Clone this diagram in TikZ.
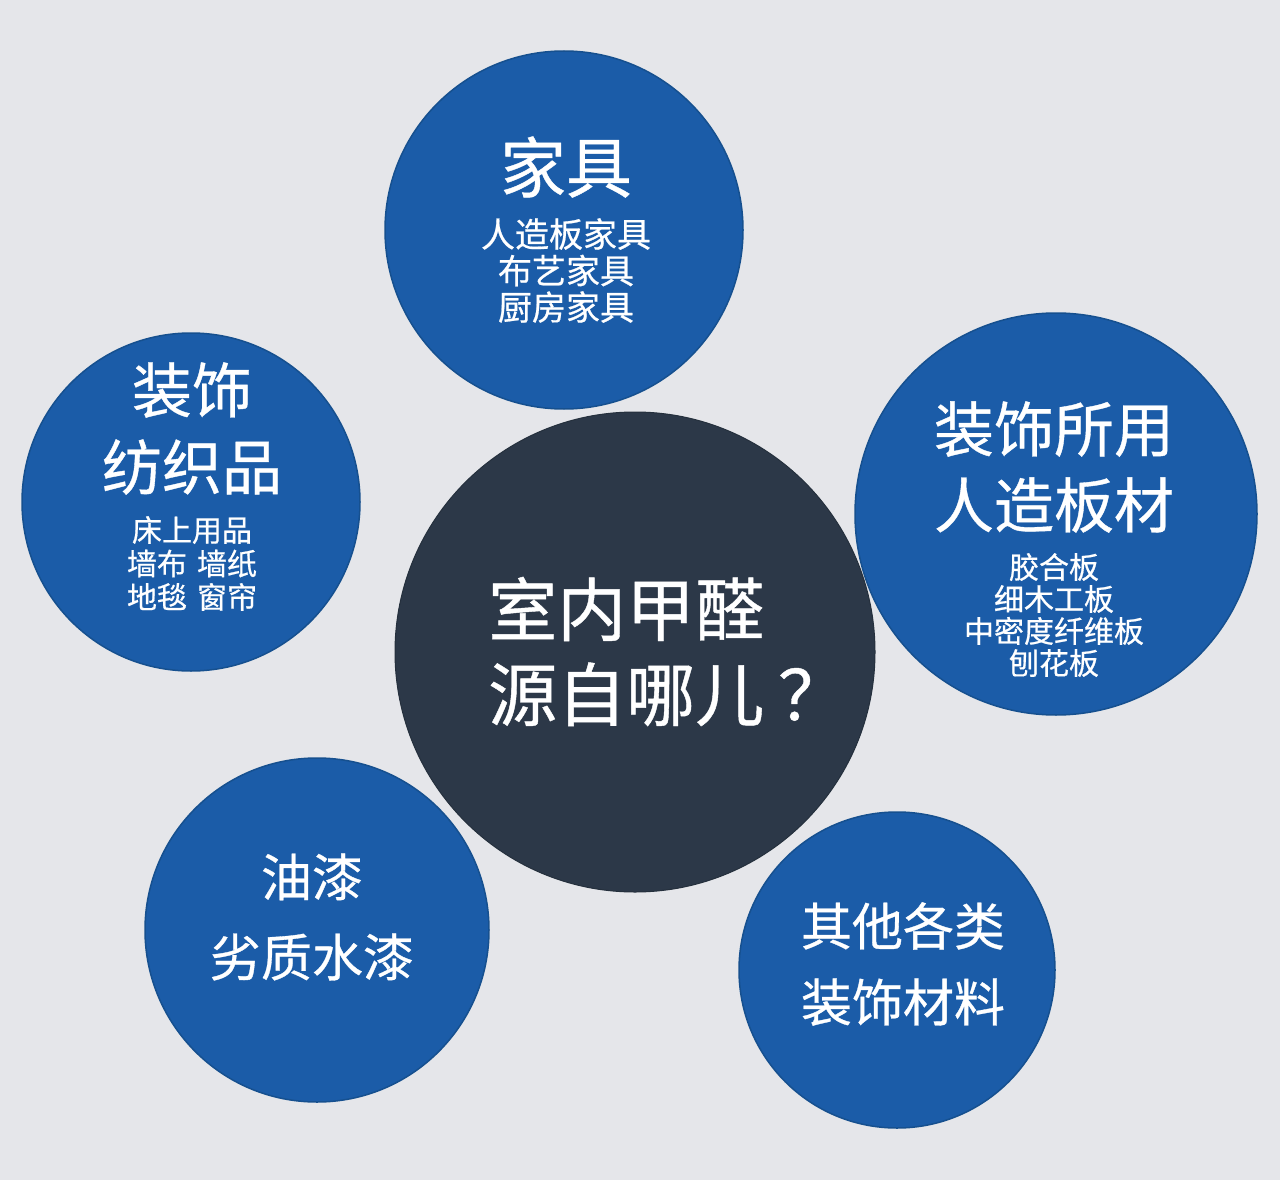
\documentclass[tikz,border=0pt]{standalone}
\usepackage{fontspec}
\setmainfont{Noto Sans CJK SC}
\newfontfamily\heavy{Noto Sans CJK SC}[FakeBold=0.6]
\definecolor{bg}{HTML}{E5E6EA}
\definecolor{blu}{HTML}{1B5CA8}
\definecolor{bluedge}{HTML}{16508F}
\definecolor{dark}{HTML}{2C3848}
\tikzset{
  bluecirc/.style={circle, fill=blu, draw=bluedge, line width=1.5pt, inner sep=0pt},
  darkcirc/.style={circle, fill=dark, draw=dark!85!black, line width=1pt, inner sep=0pt},
  txt/.style={text=white, inner sep=0pt, align=center},
}
\newcommand{\fs}[2]{\heavy\fontsize{#1}{#2}\selectfont}
\begin{document}
\begin{tikzpicture}[x=1pt,y=-1pt]
\fill[bg] (0,0) rectangle (1280,1180);
\useasboundingbox (0,0) rectangle (1280,1180);
% circles
\node[bluecirc, minimum size=358pt] (c1) at (564,230) {};
\node[bluecirc, minimum size=338pt] (c2) at (191,502) {};
\node[bluecirc, minimum size=402pt] (c3) at (1056,514) {};
\node[darkcirc, minimum size=480pt] (c0) at (635,652) {};
\node[bluecirc, minimum size=344pt] (c4) at (317,930) {};
\node[bluecirc, minimum size=316pt] (c5) at (897,970) {};
% texts
\node[txt, font=\fs{66}{70}] (t1a) at (566,167) {家具};
\node[txt, font=\fs{34}{36.5}] (t1b) at (566,270.5) {人造板家具\\布艺家具\\厨房家具};
\node[txt, font=\fs{60}{77}] (t2a) at (192,428.5) {装饰\\纺织品};
\node[txt, font=\fs{30}{33.5}] (t2b) at (192,563.5) {床上用品\\墙布\,\,墙纸\\地毯\,\,窗帘};
\node[txt, font=\fs{60}{76}] (t3a) at (1054,467) {装饰所用\\人造板材};
\node[txt, font=\fs{30}{32}] (t3b) at (1054,615) {胶合板\\细木工板\\中密度纤维板\\刨花板};
\node[txt, align=left, anchor=west, font=\fs{69}{85}] (t0) at (488,651.5) {室内甲醛\\源自哪儿\hspace{14pt}？};
\node[txt, font=\fs{51}{80}] (t4) at (312,917) {油漆\\劣质水漆};
\node[txt, font=\fs{51}{76}] (t5) at (903,964) {其他各类\\装饰材料};
\end{tikzpicture}
\end{document}
